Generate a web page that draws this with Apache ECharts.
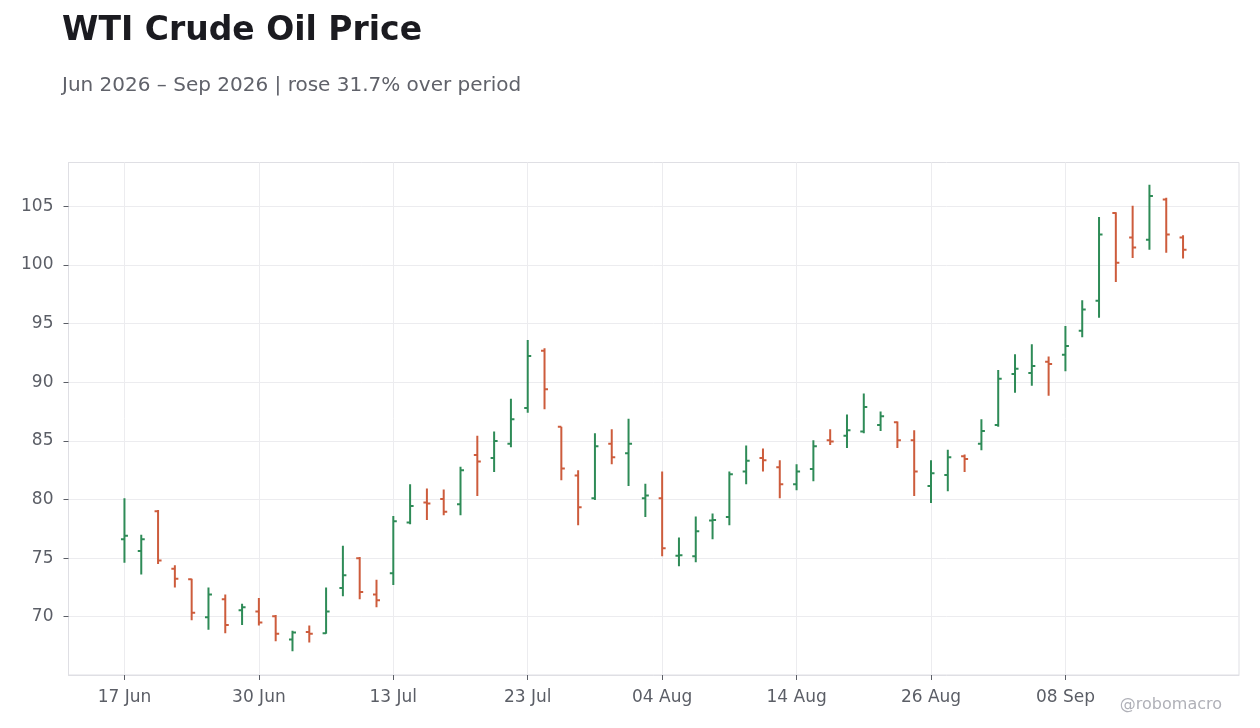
<!DOCTYPE html>
<html>
<head>
<meta charset="UTF-8">
<title>WTI Crude Oil Price</title>
<script src="https://cdn.jsdelivr.net/npm/echarts@6/dist/echarts.min.js"></script>
<style>
html, body { margin: 0; padding: 0; background: #ffffff; }
#main { width: 1260px; height: 728px; }
</style>
</head>
<body>
<div id="main"></div>
<script type="text/javascript">
// trading days (NYSE calendar, holidays skipped)
var dates = [
    '2026-06-17', '2026-06-18', '2026-06-22', '2026-06-23', '2026-06-24', '2026-06-25', '2026-06-26', '2026-06-29', '2026-06-30',
    '2026-07-01', '2026-07-02', '2026-07-06', '2026-07-07', '2026-07-08', '2026-07-09', '2026-07-10', '2026-07-13', '2026-07-14',
    '2026-07-15', '2026-07-16', '2026-07-17', '2026-07-20', '2026-07-21', '2026-07-22', '2026-07-23', '2026-07-24', '2026-07-27',
    '2026-07-28', '2026-07-29', '2026-07-30', '2026-07-31',
    '2026-08-03', '2026-08-04', '2026-08-05', '2026-08-06', '2026-08-07', '2026-08-10', '2026-08-11', '2026-08-12', '2026-08-13',
    '2026-08-14', '2026-08-17', '2026-08-18', '2026-08-19', '2026-08-20', '2026-08-21', '2026-08-24', '2026-08-25', '2026-08-26',
    '2026-08-27', '2026-08-28', '2026-08-31',
    '2026-09-01', '2026-09-02', '2026-09-03', '2026-09-04', '2026-09-08', '2026-09-09', '2026-09-10', '2026-09-11', '2026-09-14',
    '2026-09-15', '2026-09-16', '2026-09-17'
];

var opens = [
    76.6, 75.6, 79.0, 74.1, 73.2, 69.95, 71.5, 70.55, 70.45,
    70.05, 68.05, 68.7, 68.6, 72.45, 75.0, 71.9, 73.7, 78.05,
    79.75, 80.05, 79.6, 83.8, 83.55, 84.75, 87.8, 92.7, 86.2,
    82.05, 80.1, 84.75, 83.95,
    80.1, 80.1, 75.2, 75.15, 78.2, 78.5, 82.4, 83.55, 82.75,
    81.3, 82.6, 85.05, 85.45, 85.8, 86.35, 86.6, 85.05, 81.15,
    82.1, 83.7, 84.75,
    86.35, 90.7, 90.8, 91.75, 92.35, 94.4, 96.95, 104.45, 102.35,
    102.15, 105.6, 102.35
];
var highs = [
    80.1, 77.0, 79.1, 74.4, 73.25, 72.5, 71.9, 71.1, 71.6,
    70.15, 68.8, 69.25, 72.5, 76.05, 75.1, 73.15, 78.6, 81.3,
    80.95, 80.85, 82.8, 85.45, 85.8, 88.6, 93.6, 92.9, 86.2,
    82.5, 85.65, 86.0, 86.9,
    81.35, 82.4, 76.75, 78.55, 78.8, 82.4, 84.6, 84.35, 83.35,
    83.0, 85.05, 86.0, 87.25, 89.05, 87.5, 86.65, 85.9, 83.35,
    84.25, 83.85, 86.85,
    91.05, 92.4, 93.25, 92.2, 94.8, 97.0, 104.1, 104.5, 105.05,
    106.85, 105.75, 102.55
];
var lows = [
    74.6, 73.6, 74.5, 72.5, 69.7, 68.9, 68.6, 69.3, 69.25,
    67.9, 67.05, 67.8, 68.55, 71.75, 71.5, 70.8, 72.7, 77.9,
    78.25, 78.65, 78.65, 80.3, 82.35, 84.45, 87.4, 87.7, 81.65,
    77.8, 79.95, 83.0, 81.15,
    78.5, 75.15, 74.3, 74.65, 76.6, 77.8, 81.3, 82.4, 80.1,
    80.8, 81.55, 84.65, 84.4, 85.65, 85.85, 84.4, 80.3, 79.7,
    80.7, 82.35, 84.2,
    86.2, 89.1, 89.7, 88.85, 90.95, 93.85, 95.5, 98.55, 100.6,
    101.3, 101.05, 100.55
];
var closes = [
    76.9, 76.6, 74.8, 73.25, 70.35, 71.9, 69.3, 70.8, 69.5,
    68.55, 68.65, 68.55, 70.45, 73.55, 72.1, 71.4, 78.15, 79.45,
    79.65, 78.95, 82.5, 83.25, 85.0, 86.85, 92.25, 89.4, 82.65,
    79.35, 84.55, 83.6, 84.75,
    80.35, 75.85, 75.25, 77.3, 78.25, 82.15, 83.3, 83.35, 81.3,
    82.4, 84.55, 84.95, 85.9, 87.9, 87.1, 85.05, 82.4, 82.25,
    83.6, 83.45, 85.85,
    90.3, 91.15, 91.4, 91.55, 93.1, 96.2, 102.6, 100.2, 101.5,
    105.9, 102.6, 101.3
];

var xTickIndex = [0, 8, 16, 24, 32, 40, 48, 56];
var yTicks = [70, 75, 80, 85, 90, 95, 100, 105];
var monthNames = ['Jan', 'Feb', 'Mar', 'Apr', 'May', 'Jun', 'Jul', 'Aug', 'Sep', 'Oct', 'Nov', 'Dec'];

var upColor = '#2e8b57';
var downColor = '#cd5c3c';
var textGray = '#5b5e66';
var frameGray = '#dfdfe4';
var fontFamily = "'DejaVu Sans', sans-serif";

function fmtDate(s) {
    var p = s.split('-');
    return p[2] + ' ' + monthNames[parseInt(p[1], 10) - 1];
}

var ohlc = [];
for (var i = 0; i < dates.length; i++) {
    ohlc.push([i, opens[i], highs[i], lows[i], closes[i]]);
}

function renderOhlc(params, api) {
    var x = api.value(0);
    var o = api.coord([x, api.value(1)]);
    var h = api.coord([x, api.value(2)]);
    var l = api.coord([x, api.value(3)]);
    var c = api.coord([x, api.value(4)]);
    var color = api.value(4) >= api.value(1) ? upColor : downColor;
    var tick = 3.5;
    var style = { stroke: color, lineWidth: 2 };
    return {
        type: 'group',
        children: [
            { type: 'line', shape: { x1: h[0], y1: h[1], x2: l[0], y2: l[1] }, style: style },
            { type: 'line', shape: { x1: o[0] - tick, y1: o[1], x2: o[0], y2: o[1] }, style: style },
            { type: 'line', shape: { x1: c[0], y1: c[1], x2: c[0] + tick, y2: c[1] }, style: style }
        ]
    };
}

var myChart = echarts.init(document.getElementById('main'));

var option = {
    backgroundColor: '#ffffff',
    animation: false,
    textStyle: { fontFamily: fontFamily },
    title: [
        {
            text: 'WTI Crude Oil Price',
            left: 62,
            top: 15,
            padding: 0,
            textStyle: { fontFamily: fontFamily, fontSize: 33, fontWeight: 'bold', color: '#1b1b20' }
        },
        {
            text: 'Jun 2026 \u2013 Sep 2026 | rose 31.7% over period',
            left: 62,
            top: 76,
            padding: 0,
            textStyle: { fontFamily: fontFamily, fontSize: 20, fontWeight: 'normal', color: '#60626a' }
        }
    ],
    graphic: [
        {
            type: 'text',
            right: 38,
            top: 697,
            style: { text: '@robomacro', fontFamily: fontFamily, fontSize: 16, fill: '#b0b1b8' }
        }
    ],
    grid: {
        left: 68.5,
        right: 21,
        top: 162.5,
        bottom: 53,
        show: true,
        borderColor: frameGray,
        borderWidth: 1
    },
    xAxis: {
        type: 'value',
        min: -3.33,
        max: 66.33,
        axisLine: { show: true, onZero: false, lineStyle: { color: frameGray, width: 1 } },
        axisTick: {
            show: true,
            inside: false,
            length: 5,
            customValues: xTickIndex,
            lineStyle: { color: textGray, width: 1 }
        },
        axisLabel: {
            customValues: xTickIndex,
            margin: 14,
            fontSize: 17,
            color: textGray,
            fontFamily: fontFamily,
            formatter: function (v) { return fmtDate(dates[Math.round(v)]); }
        },
        splitLine: { show: true, lineStyle: { color: '#ececef', width: 1 } }
    },
    yAxis: {
        type: 'value',
        min: 65.03,
        max: 108.75,
        axisLine: { show: true, onZero: false, lineStyle: { color: frameGray, width: 1 } },
        axisTick: {
            show: true,
            inside: false,
            length: 5,
            customValues: yTicks,
            lineStyle: { color: textGray, width: 1 }
        },
        axisLabel: {
            customValues: yTicks,
            margin: 15,
            fontSize: 17,
            color: textGray,
            fontFamily: fontFamily
        },
        splitLine: { show: true, lineStyle: { color: '#ececef', width: 1 } }
    },
    series: [
        {
            type: 'custom',
            name: 'WTI',
            renderItem: renderOhlc,
            encode: { x: 0, y: [1, 2, 3, 4] },
            data: ohlc,
            clip: true
        }
    ]
};

myChart.setOption(option);
</script>
</body>
</html>
